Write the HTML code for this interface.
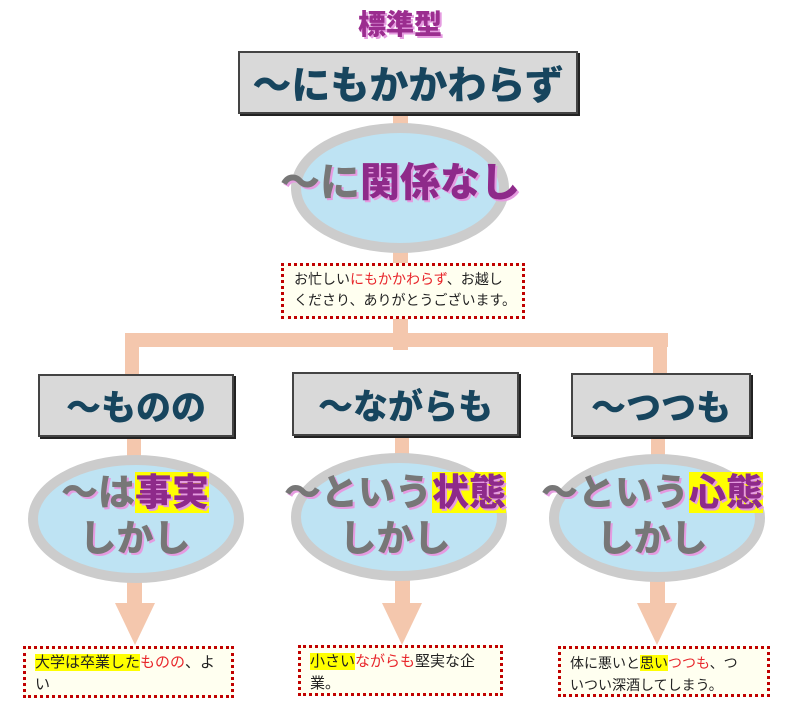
<!DOCTYPE html>
<html><head><meta charset="utf-8"><style>
body{margin:0;width:800px;height:702px;background:#fff;position:relative;overflow:hidden;font-family:"Liberation Sans","Noto Sans CJK JP",sans-serif}
.a{position:absolute}
.box{position:absolute;background:#d9d9d9;border:2px solid #444;box-shadow:2px 2px 0 #222;box-sizing:border-box;display:flex;align-items:center;justify-content:center;color:#17455e;font-weight:900;white-space:nowrap}
.ex{position:absolute;background:#fffff0;border:3px dotted #c00000;box-sizing:border-box;font-size:15px;line-height:22px;color:#222;padding:3px 9px;white-space:nowrap}
.r{color:#e8262b}.y{background:#ffff00}
.el{position:absolute;text-align:center;font-weight:900;color:#777;text-shadow:2px 2px 0 #e59be0;white-space:nowrap;line-height:46px;font-size:37px}
.p{color:#8e2a8a}
</style></head><body>
<svg class="a" style="left:0;top:0" width="800" height="702">
<g fill="#f4c7ad">
<rect x="393" y="110" width="15" height="240"/>
<rect x="125" y="333" width="543" height="14"/>
<rect x="125" y="333" width="14" height="45"/>
<rect x="653" y="333" width="14" height="45"/>
<rect x="127" y="436" width="14" height="22"/>
<rect x="395" y="436" width="14" height="22"/>
<rect x="651" y="436" width="14" height="22"/>
<rect x="127" y="580" width="15" height="25"/><polygon points="115,603 155,603 135,645"/>
<rect x="395" y="580" width="15" height="25"/><polygon points="382,603 422,603 402,645"/>
<rect x="650" y="580" width="15" height="25"/><polygon points="637,603 677,603 657,645"/>
</g>
<g fill="#bee3f3" stroke="#cccccc" stroke-width="10">
<ellipse cx="400" cy="188" rx="104" ry="60"/>
<ellipse cx="136" cy="519" rx="103" ry="59"/>
<ellipse cx="399" cy="517" rx="103" ry="59"/>
<ellipse cx="657" cy="518" rx="103" ry="59"/>
</g>
</svg>
<div class="a" style="left:340px;top:3px;width:120px;text-align:center;font-size:28px;font-weight:900;color:#9b2d8f;text-shadow:2px 2px 0 #e59be0">標準型</div>
<div class="box" style="left:238px;top:51px;width:340px;height:63px;font-size:39px">～にもかかわらず</div>
<div class="el" style="left:270px;top:160px;width:260px;font-size:40px">～に<span class="p">関係なし</span></div>
<div class="ex" style="left:281px;top:263px;width:244px;height:56px;font-size:14px;line-height:21px;padding:3px 10px">お忙しい<span class="r">にもかかわらず</span>、お越し<br>くださり、ありがとうございます。</div>
<div class="box" style="left:38px;top:374px;width:196px;height:63px;font-size:35px">～ものの</div>
<div class="box" style="left:292px;top:372px;width:227px;height:64px;font-size:35px">～ながらも</div>
<div class="box" style="left:571px;top:373px;width:180px;height:64px;font-size:35px">～つつも</div>
<div class="el" style="left:10px;top:470px;width:250px">～は<span class="p y">事実</span><br>しかし</div>
<div class="el" style="left:255px;top:470px;width:280px">～という<span class="p y">状態</span><br>しかし</div>
<div class="el" style="left:512px;top:470px;width:280px">～という<span class="p y">心態</span><br>しかし</div>
<div class="ex" style="left:23px;top:646px;width:211px;height:52px">
<span class="y">大学は卒業した</span><span class="r">ものの</span>、よ<br>い</div>
<div class="ex" style="left:298px;top:645px;width:205px;height:51px"><span class="y">小さい</span><span class="r">ながらも</span>堅実な企<br>業。</div>
<div class="ex" style="left:558px;top:646px;width:212px;height:51px;font-size:14px">体に悪いと<span class="y">思い</span><span class="r">つつも</span>、つ<br>いつい深酒してしまう。</div>
</body></html>
